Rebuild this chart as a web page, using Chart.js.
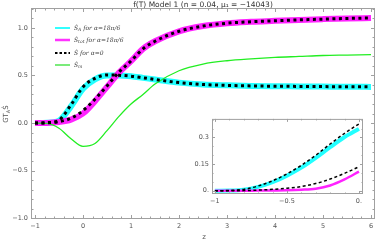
<!DOCTYPE html>
<html>
<head>
<meta charset="utf-8">
<script src="https://cdn.jsdelivr.net/npm/chart.js@4.4.1/dist/chart.umd.min.js"></script>
<style>
  html, body { margin: 0; padding: 0; background: #fff; }
  #wrap { position: relative; width: 381px; height: 241px; }
  #main { position: absolute; left: 0; top: 0; }
  #inset { position: absolute; left: 190px; top: 112px; }
</style>
</head>
<body>
<div id="wrap">
  <canvas id="main" width="381" height="241"></canvas>
  <canvas id="inset" width="180" height="100"></canvas>
</div>
<script>
// main plot data
var z = [-1, -0.75, -0.5, -0.25, 0, 0.25, 0.5, 0.75, 1, 1.25, 1.5, 2, 2.5, 3, 3.5, 4, 4.5, 5, 5.5, 6];
var sA   = [0, 0.003, 0.025, 0.175, 0.36, 0.46, 0.50, 0.50, 0.492, 0.475, 0.458, 0.425, 0.405, 0.396, 0.39, 0.387, 0.385, 0.383, 0.381, 0.38];
var sTot = [0, 0.001, 0.01, 0.035, 0.10, 0.23, 0.38, 0.53, 0.65, 0.78, 0.86, 0.965, 1.02, 1.05, 1.065, 1.075, 1.085, 1.093, 1.10, 1.105];
var s0A   = [0, 0.004, 0.03, 0.19, 0.38, 0.47, 0.505, 0.502, 0.493, 0.476, 0.458, 0.425, 0.405, 0.396, 0.39, 0.387, 0.385, 0.383, 0.381, 0.38];
var s0Tot = [0, 0.002, 0.014, 0.05, 0.13, 0.25, 0.39, 0.535, 0.652, 0.78, 0.86, 0.965, 1.02, 1.05, 1.065, 1.075, 1.085, 1.093, 1.10, 1.105];
var sM   = [0, -0.004, -0.055, -0.165, -0.245, -0.215, -0.08, 0.07, 0.20, 0.30, 0.41, 0.55, 0.62, 0.655, 0.675, 0.69, 0.70, 0.71, 0.715, 0.72];

var xTicks = [-1, 0, 1, 2, 3, 4, 5, 6];
var xTickLabels = ['−1', '0', '1', '2', '3', '4', '5', '6'];
var yTicks = [-1, -0.5, 0, 0.5, 1];
var yTickLabels = ['−1.0', '−0.5', '0.0', '0.5', '1.0'];

// inset data
var zi = [-1, -0.9, -0.8, -0.7, -0.6, -0.5, -0.4, -0.3, -0.2, -0.1, 0];
var iA    = [0, 0.001, 0.006, 0.022, 0.048, 0.085, 0.13, 0.185, 0.245, 0.302, 0.348];
var iA0   = [0, 0.002, 0.008, 0.027, 0.056, 0.095, 0.143, 0.2, 0.263, 0.323, 0.376];
var iTot  = [0, 0, 0, 0.001, 0.002, 0.003, 0.006, 0.012, 0.03, 0.064, 0.108];
var iTot0 = [0, 0, 0.001, 0.004, 0.008, 0.014, 0.024, 0.041, 0.066, 0.098, 0.135];
var ixTicks = [-1, -0.5, 0];
var ixTickLabels = ['−1', '−0.5', '0.'];
var iyTicks = [0, 0.15, 0.3];
var iyTickLabels = ['0.', '0.15', '0.3'];

var tickFont = { family: 'DejaVu Sans', size: 6.5 };
var tickColor = '#555';

function pts(xs, ys) {
  return xs.map(function (x, i) { return { x: x, y: ys[i] }; });
}

function setTicks(vals) {
  return function (s) { s.ticks = vals.map(function (v) { return { value: v }; }); };
}

function labelFrom(vals, labels) {
  return function (v) {
    var i = vals.indexOf(v);
    return i >= 0 ? labels[i] : '';
  };
}

// Mathematica style frame with ticks pointing inside
function framePlugin(xMaj, xStep, yMaj, yStep, majLen, minLen) {
  return {
    id: 'frame',
    afterDraw: function (chart) {
      var c = chart.ctx, a = chart.chartArea;
      var sx = chart.scales.x, sy = chart.scales.y;
      c.save();
      c.strokeStyle = '#a0a0a0';
      c.lineWidth = 1;
      c.strokeRect(a.left + 0.5, a.top + 0.5, a.right - a.left - 1, a.bottom - a.top - 1);
      c.beginPath();
      var v, p, L;
      for (v = Math.ceil(sx.min / xStep) * xStep; v <= sx.max + 1e-9; v += xStep) {
        p = Math.round(sx.getPixelForValue(v)) + 0.5;
        L = xMaj.some(function (m) { return Math.abs(m - v) < 1e-6; }) ? majLen : minLen;
        c.moveTo(p, a.bottom); c.lineTo(p, a.bottom - L);
        c.moveTo(p, a.top); c.lineTo(p, a.top + L);
      }
      for (v = Math.ceil(sy.min / yStep) * yStep; v <= sy.max + 1e-9; v += yStep) {
        p = Math.round(sy.getPixelForValue(v)) + 0.5;
        L = yMaj.some(function (m) { return Math.abs(m - v) < 1e-6; }) ? majLen : minLen;
        c.moveTo(a.left, p); c.lineTo(a.left + L, p);
        c.moveTo(a.right, p); c.lineTo(a.right - L, p);
      }
      c.stroke();
      c.restore();
    }
  };
}

var S = 'S\u0307';

var textPlugin = {
  id: 'texts',
  afterDraw: function (chart) {
    var c = chart.ctx;
    c.save();
    // title
    c.fillStyle = '#333';
    c.font = '7.5px "DejaVu Sans"';
    c.textAlign = 'center';
    c.textBaseline = 'alphabetic';
    c.fillText('f(T) Model 1 (n = 0.04, \u03bc\u2081 = \u221214043)', 203, 7);
    // x label
    c.font = '7px "DejaVu Sans"';
    c.fillStyle = '#555';
    c.fillText('z', 204, 239);
    // y label
    c.save();
    c.translate(8, 114);
    c.rotate(-Math.PI / 2);
    c.textAlign = 'left';
    c.font = '7px "DejaVu Sans"';
    var w1 = c.measureText('GT').width;
    c.font = '5px "DejaVu Sans"';
    var w2 = c.measureText('A').width;
    c.font = '7px "DejaVu Sans"';
    var w3 = c.measureText(S).width;
    var x0 = -(w1 + w2 + w3) / 2;
    c.fillText('GT', x0, 0);
    c.font = '5px "DejaVu Sans"';
    c.fillText('A', x0 + w1, 2);
    c.font = '7px "DejaVu Sans"';
    c.fillText(S, x0 + w1 + w2, 0);
    c.restore();
    // legend
    var items = [
      { col: '#33ffff', w: 2, dash: [], sub: 'A', txt: ' for \u03b1=18\u03c0/6', y: 28 },
      { col: '#ff33ff', w: 2.5, dash: [], sub: 'tot', txt: ' for \u03b1=18\u03c0/6', y: 40 },
      { col: '#000', w: 2, dash: [2.5, 2], sub: '', txt: ' for \u03b1=0', y: 53 },
      { col: '#22dd22', w: 1.2, dash: [], sub: 'm', txt: '', y: 65 }
    ];
    items.forEach(function (it) {
      c.beginPath();
      c.setLineDash(it.dash);
      c.strokeStyle = it.col;
      c.lineWidth = it.w;
      c.moveTo(55, it.y); c.lineTo(70, it.y);
      c.stroke();
      c.setLineDash([]);
      c.fillStyle = '#444';
      c.textAlign = 'left';
      c.textBaseline = 'middle';
      c.font = 'italic 6px "DejaVu Serif"';
      var x = 74;
      c.fillText(S, x, it.y);
      x += c.measureText(S).width;
      if (it.sub) {
        c.font = 'italic 4.5px "DejaVu Serif"';
        c.fillText(it.sub, x, it.y + 2);
        x += c.measureText(it.sub).width;
      }
      c.font = 'italic 6px "DejaVu Serif"';
      c.fillText(it.txt, x, it.y);
    });
    c.restore();
  }
};

new Chart(document.getElementById('main').getContext('2d'), {
  type: 'line',
  data: {
    datasets: [
      { label: S + ' for \u03b1=0', data: pts(z, s0A), borderColor: '#000', borderWidth: 3, borderDash: [3, 3.5], order: 0 },
      { label: S + ' for \u03b1=0 tot', data: pts(z, s0Tot), borderColor: '#000', borderWidth: 3, borderDash: [3, 3.5], order: 0 },
      { label: S + 'm', data: pts(z, sM), borderColor: '#22ee22', borderWidth: 1.3, order: 1 },
      { label: S + 'tot for \u03b1=18\u03c0/6', data: pts(z, sTot), borderColor: '#ff22ff', borderWidth: 6, order: 2 },
      { label: S + 'A for \u03b1=18\u03c0/6', data: pts(z, sA), borderColor: '#22ffff', borderWidth: 6, order: 3 }
    ]
  },
  options: {
    responsive: false,
    animation: false,
    events: [],
    layout: { padding: { top: 8, right: 6, left: 0, bottom: 0 } },
    elements: {
      point: { radius: 0 },
      line: { cubicInterpolationMode: 'monotone', borderCapStyle: 'butt', fill: false }
    },
    plugins: { legend: { display: false }, tooltip: { enabled: false } },
    scales: {
      x: {
        type: 'linear', min: -1.083, max: 6.083,
        afterBuildTicks: setTicks(xTicks),
        afterFit: function (s) { s.height = 22; },
        grid: { display: false, drawTicks: false },
        border: { display: false },
        ticks: { font: tickFont, color: tickColor, padding: 3, maxRotation: 0, callback: labelFrom(xTicks, xTickLabels) }
      },
      y: {
        type: 'linear', min: -1.01, max: 1.21,
        afterBuildTicks: setTicks(yTicks),
        afterFit: function (s) { s.width = 31; },
        grid: { display: false, drawTicks: false },
        border: { display: false },
        ticks: { font: tickFont, color: tickColor, padding: 3, callback: labelFrom(yTicks, yTickLabels) }
      }
    }
  },
  plugins: [framePlugin(xTicks, 0.2, yTicks, 0.1, 4, 2.5), textPlugin]
});

new Chart(document.getElementById('inset').getContext('2d'), {
  type: 'line',
  data: {
    datasets: [
      { label: 'a0', data: pts(zi, iA0), borderColor: '#000', borderWidth: 1.5, borderDash: [3, 2.5], order: 0 },
      { label: 't0', data: pts(zi, iTot0), borderColor: '#000', borderWidth: 1.5, borderDash: [3, 2.5], order: 0 },
      { label: 'tot', data: pts(zi, iTot), borderColor: '#ff22ff', borderWidth: 2.5, order: 1 },
      { label: 'A', data: pts(zi, iA), borderColor: '#22ffff', borderWidth: 4, order: 2 }
    ]
  },
  options: {
    responsive: false,
    animation: false,
    events: [],
    layout: { padding: { top: 6, right: 7, left: 0, bottom: 0 } },
    elements: {
      point: { radius: 0 },
      line: { cubicInterpolationMode: 'monotone', borderCapStyle: 'butt', fill: false }
    },
    plugins: { legend: { display: false }, tooltip: { enabled: false } },
    scales: {
      x: {
        type: 'linear', min: -1.02, max: 0.028,
        afterBuildTicks: setTicks(ixTicks),
        afterFit: function (s) { s.height = 18; },
        grid: { display: false, drawTicks: false },
        border: { display: false },
        ticks: { font: tickFont, color: tickColor, padding: 3, maxRotation: 0, callback: labelFrom(ixTicks, ixTickLabels) }
      },
      y: {
        type: 'linear', min: -0.018, max: 0.404,
        afterBuildTicks: setTicks(iyTicks),
        afterFit: function (s) { s.width = 22; },
        grid: { display: false, drawTicks: false },
        border: { display: false },
        ticks: { font: tickFont, color: tickColor, padding: 3, callback: labelFrom(iyTicks, iyTickLabels) }
      }
    }
  },
  plugins: [framePlugin(ixTicks, 0.1, iyTicks, 0.05, 3, 1.5)]
});
</script>
</body>
</html>
